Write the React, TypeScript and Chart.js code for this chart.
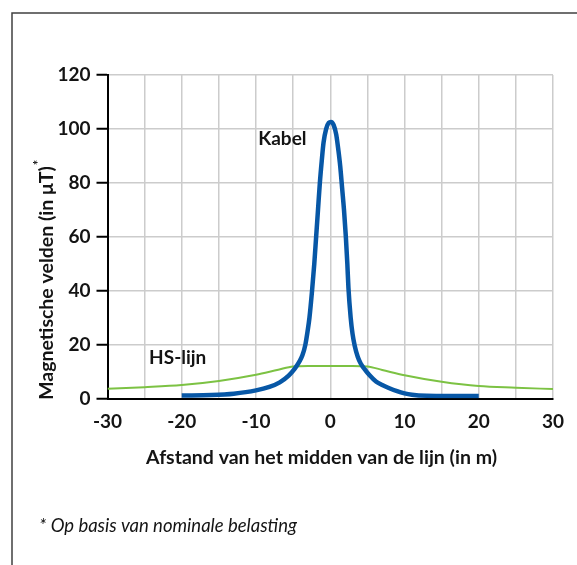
import React, { useEffect, useRef } from 'react';
import { Chart, registerables } from 'chart.js';

Chart.register(...registerables);

// ---- Data ----
const kabelX = [-20, -16, -13, -10, -8.2, -6.8, -5.6, -4.8, -4.2, -3.75, -3.35, -3.05, -2.8, -2.45, -2.15, -1.9, -1.65, -1.4, -1.15, -0.9, -0.55, -0.2, 0.1, 0.45, 0.8, 1.1, 1.35, 1.6, 1.85, 2.1, 2.3, 2.45, 2.75, 3.0, 3.3, 3.7, 4.1, 4.6, 5.3, 6.2, 7.0, 7.8, 9.0, 10, 11, 13, 16, 20];
const kabelY = [1.1, 1.3, 1.8, 3.0, 4.3, 6.0, 8.5, 11.0, 13.5, 16, 20, 25, 30, 40, 50, 60, 70, 80, 88, 95, 100, 102.3, 102.6, 101.5, 98, 92, 86, 78, 70, 60, 50, 41, 30, 24, 19.5, 15.5, 13, 11, 8.6, 6.2, 5.0, 4.0, 2.7, 1.9, 1.4, 1.0, 0.9, 0.9];

const hsX = [-30, -25, -20, -15, -10, -7, -5, -3, 0, 3, 5, 7, 10, 15, 20, 25, 30];
const hsY = [3.6, 4.2, 5.0, 6.5, 8.8, 10.7, 11.9, 12.1, 12.1, 12.1, 11.9, 10.6, 8.6, 6.2, 4.6, 4.0, 3.5];

const xTickLabels = [-30, -20, -10, 0, 10, 20, 30];
const yTickLabels = [0, 20, 40, 60, 80, 100, 120];

const seriesNames = ['Kabel', 'HS-lijn'];
const kabelLabelAt = { x: -9.7, y: 96.3 };
const hsLabelAt = { x: -24.4, y: 15.2 };

const xTitle = 'Afstand van het midden van de lijn (in m)';
const yTitle = 'Magnetische velden (in \u03bcT)';
const footnote = '* Op basis van nominale belasting';

const W = 577;
const H = 565;
const FONT = 'Lato';
const TEXT = '#141414';

const textPlugin = {
  id: 'customTexts',
  beforeDraw(chart: any) {
    const ctx = chart.ctx as CanvasRenderingContext2D;
    ctx.save();
    ctx.strokeStyle = '#404040';
    ctx.lineWidth = 1.5;
    ctx.beginPath();
    ctx.moveTo(12, H);
    ctx.lineTo(12, 13);
    ctx.lineTo(W, 13);
    ctx.stroke();
    ctx.restore();
  },
  afterDraw(chart: any) {
    const ctx = chart.ctx as CanvasRenderingContext2D;
    const xs = chart.scales.x;
    const ys = chart.scales.y;
    ctx.save();
    ctx.fillStyle = TEXT;
    ctx.font = `bold 19px ${FONT}`;
    ctx.textAlign = 'left';
    ctx.textBaseline = 'middle';
    ctx.fillText(seriesNames[0], xs.getPixelForValue(kabelLabelAt.x), ys.getPixelForValue(kabelLabelAt.y));
    ctx.fillText(seriesNames[1], xs.getPixelForValue(hsLabelAt.x), ys.getPixelForValue(hsLabelAt.y));

    // x title
    ctx.textAlign = 'center';
    ctx.font = `bold 19.5px ${FONT}`;
    ctx.fillText(xTitle, 321.5, 457.5);

    // y title (rotated)
    ctx.save();
    ctx.translate(53, 283);
    ctx.rotate(-Math.PI / 2);
    ctx.textAlign = 'center';
    ctx.textBaseline = 'alphabetic';
    ctx.font = `bold 19.5px ${FONT}`;
    const w = ctx.measureText(yTitle).width;
    ctx.fillText(yTitle, 0, 0);
    ctx.textAlign = 'left';
    ctx.font = `bold 13px ${FONT}`;
    ctx.fillText('*', w / 2 + 1, -10);
    ctx.restore();

    // footnote
    ctx.textAlign = 'left';
    ctx.textBaseline = 'alphabetic';
    ctx.font = `italic 18.5px ${FONT}`;
    ctx.fillText(footnote, 39, 532);
    ctx.restore();
  },
};

export default function App() {
  const ref = useRef<HTMLCanvasElement | null>(null);

  useEffect(() => {
    if (!ref.current) return;
    const chart = new Chart(ref.current, {
      type: 'line',
      data: {
        datasets: [
          {
            label: seriesNames[0],
            data: kabelX.map((x, i) => ({ x, y: kabelY[i] })),
            borderColor: '#0757a6',
            borderWidth: 4.5,
            borderJoinStyle: 'round',
            cubicInterpolationMode: 'monotone',
            pointRadius: 0,
            fill: false,
            order: 0,
          },
          {
            label: seriesNames[1],
            data: hsX.map((x, i) => ({ x, y: hsY[i] })),
            borderColor: '#7cc243',
            borderWidth: 2,
            cubicInterpolationMode: 'monotone',
            pointRadius: 0,
            fill: false,
            order: 1,
          },
        ],
      },
      plugins: [textPlugin],
      options: {
        responsive: false,
        animation: false,
        devicePixelRatio: 1,
        layout: { padding: { top: 75, right: 24, left: 0, bottom: 0 } },
        plugins: {
          legend: { display: false },
          tooltip: { enabled: false },
          title: { display: false },
        },
        scales: {
          x: {
            type: 'linear',
            min: xTickLabels[0],
            max: xTickLabels[xTickLabels.length - 1],
            ticks: {
              stepSize: 5,
              autoSkip: false,
              maxRotation: 0,
              padding: 12,
              color: TEXT,
              font: { family: FONT, weight: 'bold', size: 19 },
              callback: (v: any) => (xTickLabels.includes(Number(v)) ? String(v) : ''),
            },
            grid: { color: '#cccccc', lineWidth: 1.5, drawTicks: false },
            border: { color: '#000', width: 2 },
            afterFit: (s: any) => {
              s.height = H - 398.5;
            },
          },
          y: {
            type: 'linear',
            min: yTickLabels[0],
            max: yTickLabels[yTickLabels.length - 1],
            ticks: {
              stepSize: 20,
              padding: 6,
              color: TEXT,
              font: { family: FONT, weight: 'bold', size: 19 },
              callback: (v: any) => String(v),
            },
            grid: { color: '#cccccc', lineWidth: 1.5, tickColor: '#000', tickLength: 11, tickWidth: 2 },
            border: { color: '#000', width: 2 },
            afterFit: (s: any) => {
              s.width = 107.5;
            },
          },
        },
      } as any,
    });
    return () => chart.destroy();
  }, []);

  return (
    <div style={{ position: 'absolute', left: 0, top: 0, width: W, height: H, background: '#fff' }}>
      <canvas ref={ref} width={W} height={H} style={{ display: 'block', width: W, height: H }} />
    </div>
  );
}
